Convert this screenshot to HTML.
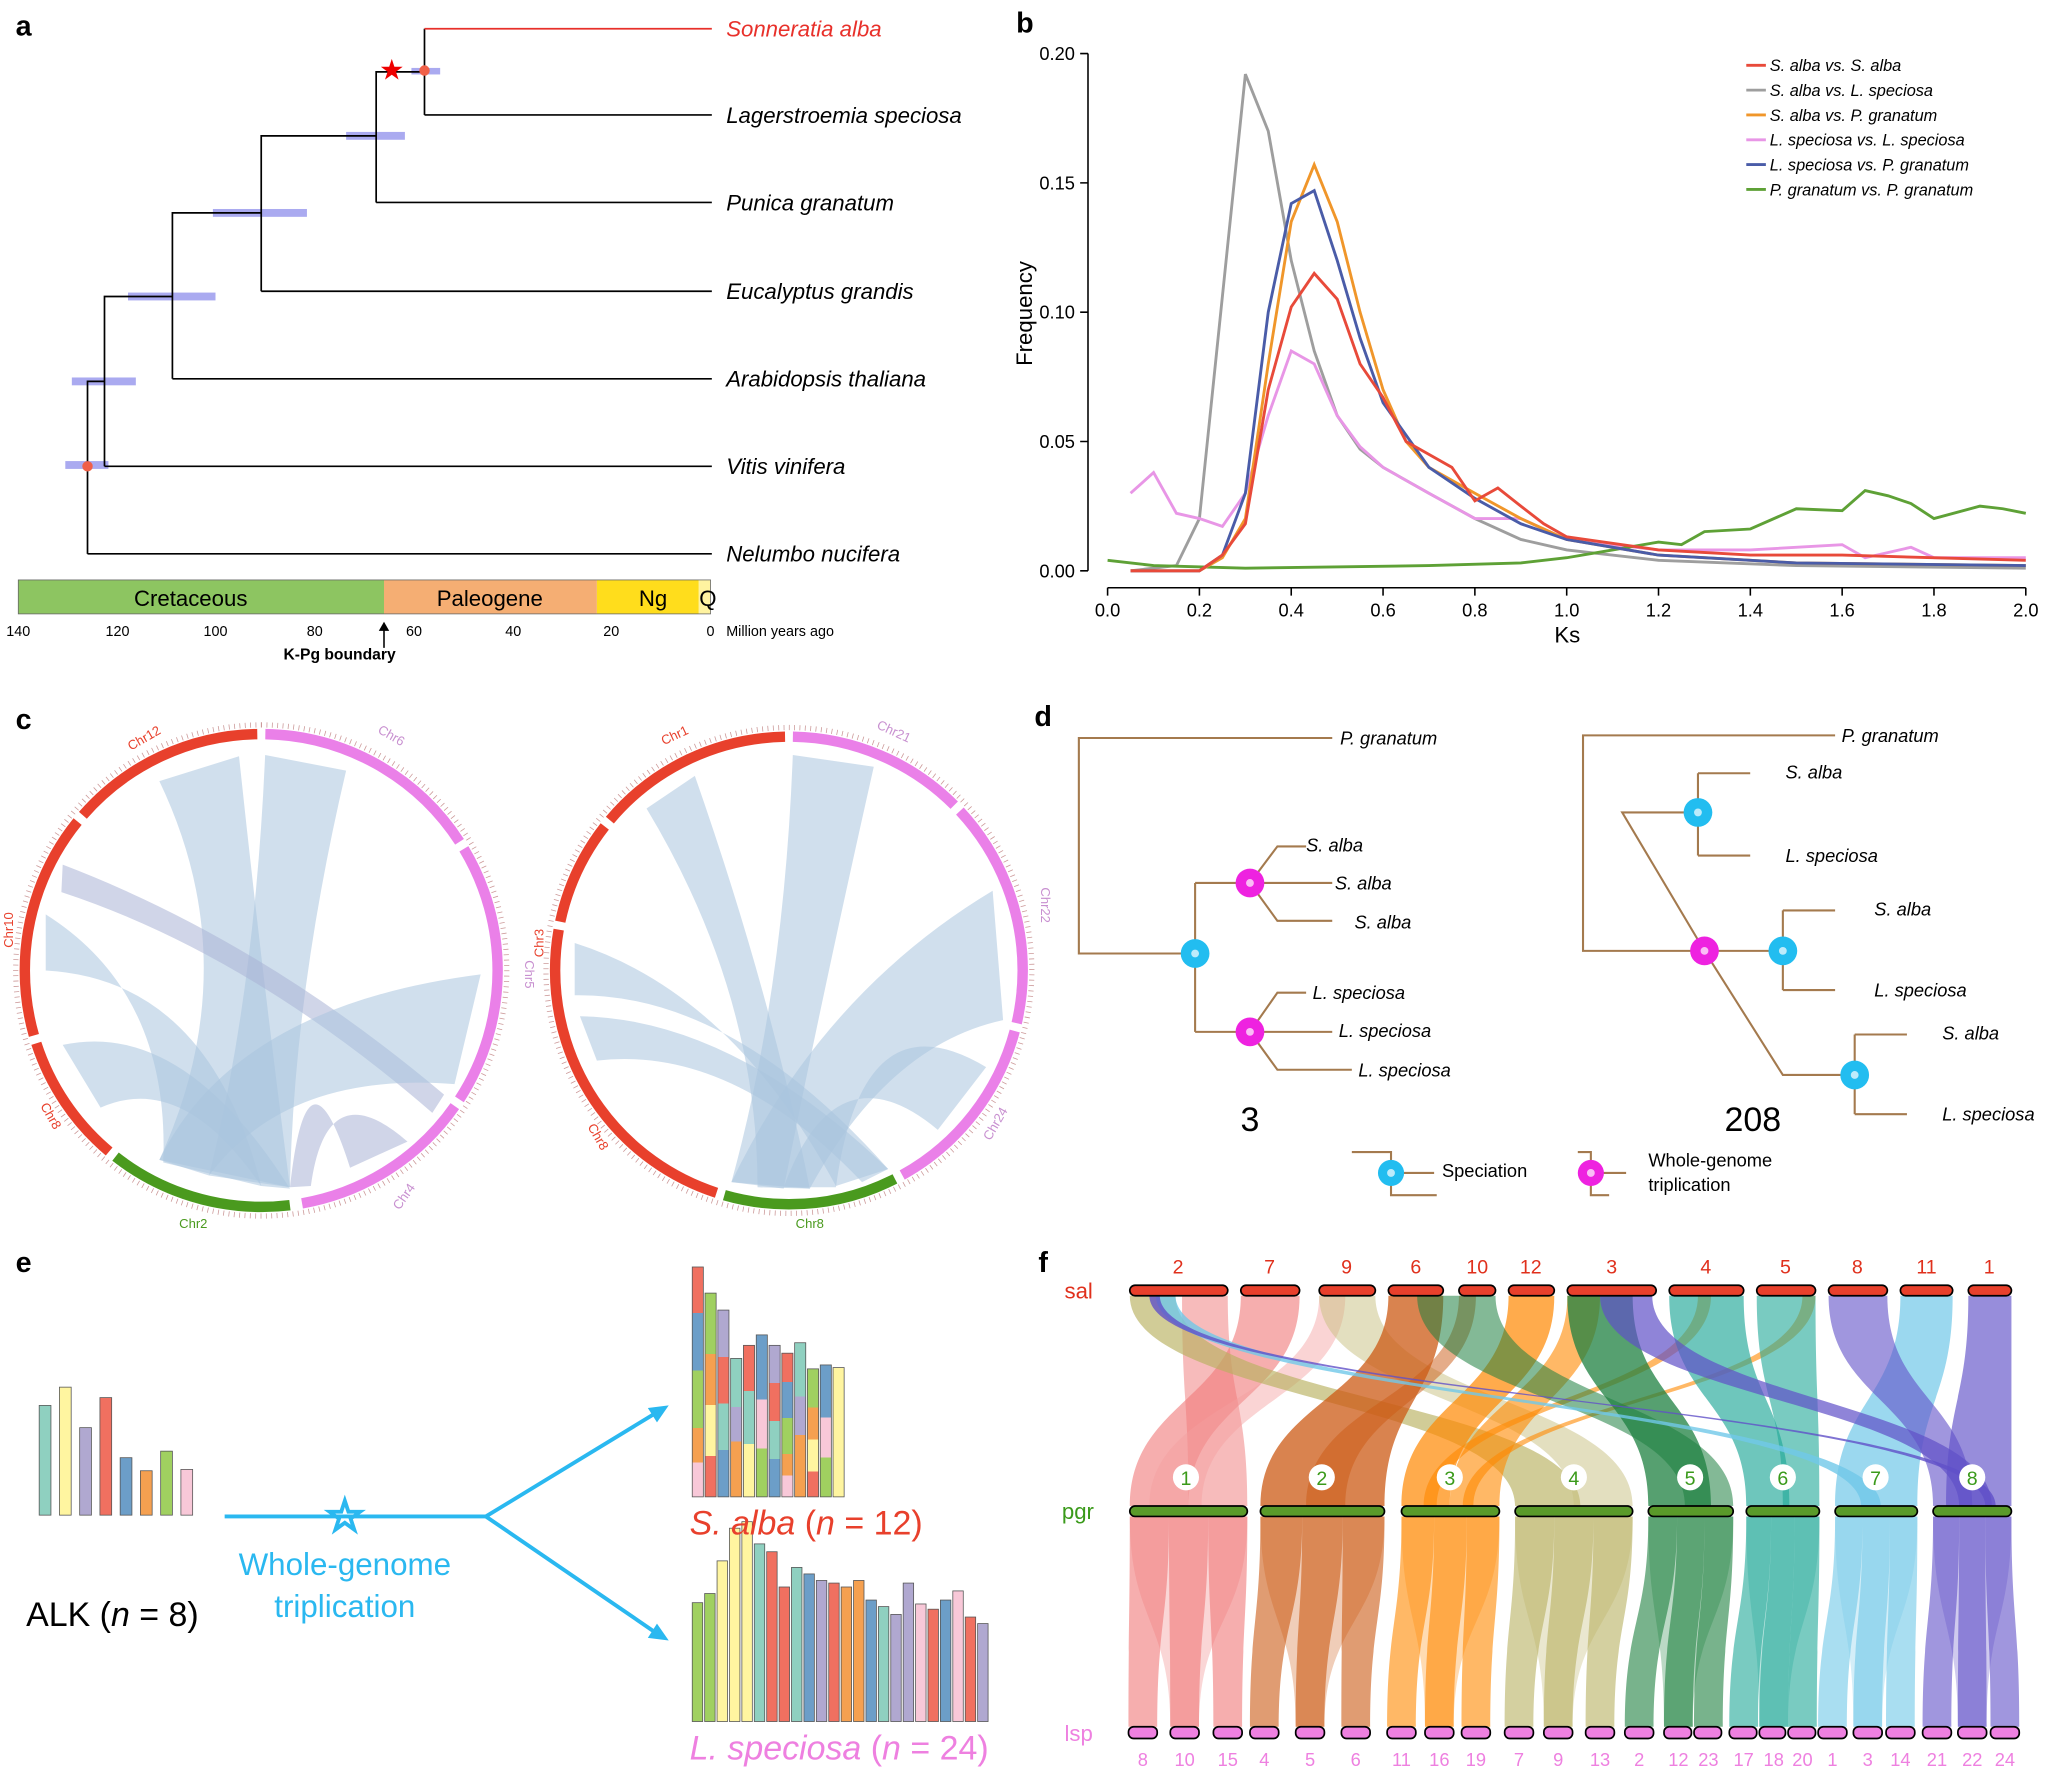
<!DOCTYPE html>
<html><head><meta charset="utf-8"><style>
html,body{margin:0;padding:0;background:#fff}
svg{display:block}
text{font-family:"Liberation Sans",sans-serif}
</style></head><body>
<svg xmlns="http://www.w3.org/2000/svg" width="2048" height="1779" viewBox="0 0 1568 1362" preserveAspectRatio="none">
<defs>
<linearGradient id="g0" x1="0" y1="0" x2="0" y2="1"><stop offset="0" stop-color="#f07060"/><stop offset=".2" stop-color="#f07060"/><stop offset=".2" stop-color="#6c9ec8"/><stop offset=".45" stop-color="#6c9ec8"/><stop offset=".45" stop-color="#a0d060"/><stop offset=".7" stop-color="#a0d060"/><stop offset=".7" stop-color="#f5a050"/><stop offset=".85" stop-color="#f5a050"/><stop offset=".85" stop-color="#f8c8d8"/><stop offset="1" stop-color="#f8c8d8"/></linearGradient>
<linearGradient id="g1" x1="0" y1="0" x2="0" y2="1"><stop offset="0" stop-color="#b0a8d0"/><stop offset=".25" stop-color="#b0a8d0"/><stop offset=".25" stop-color="#f07060"/><stop offset=".5" stop-color="#f07060"/><stop offset=".5" stop-color="#8fd0c0"/><stop offset=".75" stop-color="#8fd0c0"/><stop offset=".75" stop-color="#6c9ec8"/><stop offset="1" stop-color="#6c9ec8"/></linearGradient>
<linearGradient id="g2" x1="0" y1="0" x2="0" y2="1"><stop offset="0" stop-color="#a0d060"/><stop offset=".3" stop-color="#a0d060"/><stop offset=".3" stop-color="#f5a050"/><stop offset=".55" stop-color="#f5a050"/><stop offset=".55" stop-color="#fff5a0"/><stop offset=".8" stop-color="#fff5a0"/><stop offset=".8" stop-color="#f07060"/><stop offset="1" stop-color="#f07060"/></linearGradient>
<linearGradient id="g3" x1="0" y1="0" x2="0" y2="1"><stop offset="0" stop-color="#8fd0c0"/><stop offset=".35" stop-color="#8fd0c0"/><stop offset=".35" stop-color="#b0a8d0"/><stop offset=".6" stop-color="#b0a8d0"/><stop offset=".6" stop-color="#f5a050"/><stop offset="1" stop-color="#f5a050"/></linearGradient>
<linearGradient id="g4" x1="0" y1="0" x2="0" y2="1"><stop offset="0" stop-color="#f07060"/><stop offset=".3" stop-color="#f07060"/><stop offset=".3" stop-color="#8fd0c0"/><stop offset=".65" stop-color="#8fd0c0"/><stop offset=".65" stop-color="#fff5a0"/><stop offset="1" stop-color="#fff5a0"/></linearGradient>
<linearGradient id="g5" x1="0" y1="0" x2="0" y2="1"><stop offset="0" stop-color="#6c9ec8"/><stop offset=".4" stop-color="#6c9ec8"/><stop offset=".4" stop-color="#f8c8d8"/><stop offset=".7" stop-color="#f8c8d8"/><stop offset=".7" stop-color="#a0d060"/><stop offset="1" stop-color="#a0d060"/></linearGradient>
</defs>
<rect width="1568" height="1362" fill="#fff"/>
<g font-weight="bold" font-size="22">
<text x="12" y="27">a</text><text x="778" y="25">b</text><text x="12" y="558">c</text><text x="792" y="556">d</text><text x="12" y="974">e</text><text x="795" y="974">f</text>
</g>
<!-- Panel a -->
<g fill="#aaaaf0">
<rect x="315" y="52" width="22" height="5"/><rect x="265" y="101" width="45" height="6"/><rect x="163" y="160" width="72" height="6"/>
<rect x="98" y="224" width="67" height="6"/><rect x="55" y="289" width="49" height="6"/><rect x="50" y="353" width="33" height="6"/>
</g>
<g stroke="#000" stroke-width="1.3" fill="none">
<path d="M325 88V22"/><path d="M325 88H545"/><path d="M288 155V55H325"/><path d="M288 155H545"/>
<path d="M200 223V104H288"/><path d="M200 223H545"/><path d="M132 290V163H200"/><path d="M132 290H545"/>
<path d="M80 357V227H132"/><path d="M80 357H545"/><path d="M67 424V292H80"/><path d="M67 424H545"/>
</g>
<path d="M325 22H545" stroke="#e8302a" stroke-width="1.3"/>
<circle cx="325" cy="54" r="4" fill="#f06048"/><circle cx="67" cy="357" r="4" fill="#f06048"/>
<text x="300" y="61" font-size="22" fill="#e00" text-anchor="middle">★</text>
<g font-size="17" font-style="italic">
<text x="556" y="28" fill="#e8302a">Sonneratia alba</text><text x="556" y="94">Lagerstroemia speciosa</text><text x="556" y="161">Punica granatum</text>
<text x="556" y="229">Eucalyptus grandis</text><text x="556" y="296">Arabidopsis thaliana</text><text x="556" y="363">Vitis vinifera</text><text x="556" y="430">Nelumbo nucifera</text>
</g>
<rect x="14" y="444" width="280" height="26" fill="#8dc561"/><rect x="294" y="444" width="163" height="26" fill="#f5ae73"/>
<rect x="457" y="444" width="78" height="26" fill="#ffdd1c"/><rect x="535" y="444" width="9" height="26" fill="#fff3a0"/>
<rect x="14" y="444" width="530" height="26" fill="none" stroke="#666" stroke-width="0.6"/>
<g font-size="17" text-anchor="middle"><text x="146" y="464">Cretaceous</text><text x="375" y="464">Paleogene</text><text x="500" y="464">Ng</text><text x="542" y="464">Q</text></g>
<g font-size="11" text-anchor="middle"><text x="14" y="487">140</text><text x="90" y="487">120</text><text x="165" y="487">100</text><text x="241" y="487">80</text><text x="317" y="487">60</text><text x="393" y="487">40</text><text x="468" y="487">20</text><text x="544" y="487">0</text></g>
<text x="556" y="487" font-size="11">Million years ago</text>
<path d="M294 496V480" stroke="#000" stroke-width="1.2"/><path d="M290 483L294 476L298 483Z"/>
<text x="260" y="505" font-size="12" font-weight="bold" text-anchor="middle">K-Pg boundary</text>
<!-- Panel b -->
<g stroke="#000" stroke-width="1.2"><path d="M833 41V437"/><path d="M848 450H1551"/>
<path d="M827 437H833M827 338H833M827 239H833M827 140H833M827 41H833"/>
<path d="M848 450v6M918.3 450v6M988.6 450v6M1058.9 450v6M1129.2 450v6M1199.5 450v6M1269.8 450v6M1340.1 450v6M1410.4 450v6M1480.7 450v6M1551 450v6"/></g>
<g font-size="14" text-anchor="end"><text x="823" y="442">0.00</text><text x="823" y="343">0.05</text><text x="823" y="244">0.10</text><text x="823" y="145">0.15</text><text x="823" y="46">0.20</text></g>
<g font-size="14" text-anchor="middle"><text x="848" y="472">0.0</text><text x="918.3" y="472">0.2</text><text x="988.6" y="472">0.4</text><text x="1058.9" y="472">0.6</text><text x="1129.2" y="472">0.8</text><text x="1199.5" y="472">1.0</text><text x="1269.8" y="472">1.2</text><text x="1340.1" y="472">1.4</text><text x="1410.4" y="472">1.6</text><text x="1480.7" y="472">1.8</text><text x="1551" y="472">2.0</text></g>
<text x="1200" y="492" font-size="17" text-anchor="middle">Ks</text>
<text transform="translate(790,240) rotate(-90)" font-size="17" text-anchor="middle">Frequency</text>
<g fill="none" stroke-width="2.2">
<polyline stroke="#9e9e9e" points="865.6,437 900.7,433 918.3,397 953.5,56.8 971,100.4 988.6,199.4 1006.2,268.7 1023.8,318.2 1041.3,343.9 1058.9,357.8 1094,377.6 1129.2,397 1164.4,413 1199.5,421 1269.8,429 1375.3,433 1551,435"/>
<polyline stroke="#e896e6" points="865.6,377.6 883.2,361.8 900.7,393 918.3,397 935.9,403 953.5,377.6 971,318.2 988.6,268.7 1006.2,278.6 1023.8,318.2 1041.3,342 1058.9,357.8 1094,377.6 1129.2,397 1164.4,397 1199.5,413 1269.8,421 1340.1,421 1410.4,417 1428,427 1463.1,419 1480.7,427 1551,427"/>
<polyline stroke="#5ea136" points="848,429 883.2,433 953.5,435 1094,433 1164.4,431 1199.5,427 1234.7,421 1269.8,415 1287.4,417 1305,407 1340.1,405 1375.3,389.5 1410.4,391 1428,375.6 1445.6,379.6 1463.1,385.5 1480.7,397 1515.9,387.5 1533.4,389.5 1551,393"/>
<polyline stroke="#f0962a" points="865.6,437 918.3,437 935.9,427 953.5,397 971,278.6 988.6,169.7 1006.2,126.1 1023.8,169.7 1041.3,239 1058.9,298.4 1076.5,338 1094,357.8 1129.2,377.6 1164.4,397 1199.5,413 1269.8,425 1375.3,431 1551,433"/>
<polyline stroke="#4a5ca8" points="865.6,437 918.3,437 935.9,425 953.5,377.6 971,239 988.6,155.8 1006.2,145.9 1023.8,199.4 1041.3,258.8 1058.9,308.3 1094,357.8 1129.2,381.6 1164.4,401 1199.5,413 1269.8,425 1375.3,431 1551,433"/>
<polyline stroke="#e84a3a" points="865.6,437 918.3,437 935.9,425 953.5,401 971,298.4 988.6,235 1006.2,209.3 1023.8,229 1041.3,278.6 1058.9,304.3 1076.5,338 1094,347.9 1111.6,357.8 1129.2,383.5 1146.8,373.6 1164.4,387.5 1181.9,401 1199.5,411 1269.8,421 1340.1,425 1410.4,425 1551,429"/>
</g>
<g stroke-width="2.2">
<path d="M1337 50H1352" stroke="#e84a3a"/><path d="M1337 69H1352" stroke="#9e9e9e"/><path d="M1337 88H1352" stroke="#f0962a"/><path d="M1337 107H1352" stroke="#e896e6"/><path d="M1337 126H1352" stroke="#4a5ca8"/><path d="M1337 145H1352" stroke="#5ea136"/>
</g>
<g font-size="12.5" font-style="italic">
<text x="1355" y="54.5">S. alba vs. S. alba</text><text x="1355" y="73.5">S. alba vs. L. speciosa</text><text x="1355" y="92.5">S. alba vs. P. granatum</text><text x="1355" y="111.5">L. speciosa vs. L. speciosa</text><text x="1355" y="130.5">L. speciosa vs. P. granatum</text><text x="1355" y="149.5">P. granatum vs. P. granatum</text>
</g>
<!-- Panel c ribbons -->
<g fill="#aac4de" fill-opacity="0.55">
<path d="M122 598Q190 740 122 888L222 909Q200 740 183 579Z"/>
<path d="M203 578Q195 760 160 900L222 909Q225 760 265 590Z"/>
<path d="M48 662Q200 720 340 838L331 852Q190 730 47 683Z" fill="#a9b3d6"/>
<path d="M35 700Q130 760 125 890L200 908Q160 750 35 743Z"/>
<path d="M48 800Q140 780 222 910L200 908Q140 820 77 848Z"/>
<path d="M368 746Q180 770 122 888L160 900Q220 820 348 830Z"/>
<path d="M268 894Q235 790 222 909L238 908Q250 820 312 874Z" fill="#a9b3d6"/>
<path d="M495 619Q580 760 580 909L620 910Q590 760 532 594Z"/>
<path d="M607 578Q600 760 560 905L600 910Q630 760 669 587Z"/>
<path d="M440 722Q560 760 640 908L680 895Q560 760 440 762Z"/>
<path d="M444 778Q560 780 680 895L660 905Q560 800 457 812Z"/>
<path d="M760 682Q630 760 560 905L620 910Q680 800 768 781Z"/>
<path d="M755 817Q660 760 640 909L600 909Q640 800 718 865Z"/>
</g>
<!-- Panel c rings -->
<g fill="none" stroke-width="8">
<g transform="rotate(-90 200 743)">
<circle cx="200" cy="743" r="181" stroke="#ea80e8" stroke-dasharray="0 3.2 176.9 2000"/>
<circle cx="200" cy="743" r="181" stroke="#ea80e8" stroke-dasharray="0 186.4 202.2 2000"/>
<circle cx="200" cy="743" r="181" stroke="#ea80e8" stroke-dasharray="0 394.9 142.2 2000"/>
<circle cx="200" cy="743" r="181" stroke="#4a9a1e" stroke-dasharray="0 546.5 142.2 2000"/>
<circle cx="200" cy="743" r="181" stroke="#e8402c" stroke-dasharray="0 695 101.1 2000"/>
<circle cx="200" cy="743" r="181" stroke="#e8402c" stroke-dasharray="0 802.4 173.7 2000"/>
<circle cx="200" cy="743" r="181" stroke="#e8402c" stroke-dasharray="0 982.4 151.6 2000"/>
<circle cx="200" cy="743" r="188" stroke="#c99" stroke-width="4" stroke-dasharray="0.6 3.5"/>
</g>
<g transform="rotate(-90 604 743)">
<circle cx="604" cy="743" r="179" stroke="#ea80e8" stroke-dasharray="0 3.1 137.5 2000"/>
<circle cx="604" cy="743" r="179" stroke="#ea80e8" stroke-dasharray="0 146.8 175 2000"/>
<circle cx="604" cy="743" r="179" stroke="#ea80e8" stroke-dasharray="0 328 143.7 2000"/>
<circle cx="604" cy="743" r="179" stroke="#4a9a1e" stroke-dasharray="0 478 134.3 2000"/>
<circle cx="604" cy="743" r="179" stroke="#e8402c" stroke-dasharray="0 618.6 256.2 2000"/>
<circle cx="604" cy="743" r="179" stroke="#e8402c" stroke-dasharray="0 881 81.2 2000"/>
<circle cx="604" cy="743" r="179" stroke="#e8402c" stroke-dasharray="0 968.4 153.1 2000"/>
<circle cx="604" cy="743" r="186" stroke="#c99" stroke-width="4" stroke-dasharray="0.6 3.5"/>
</g>
</g>
<g font-size="10" text-anchor="middle">
<text x="112" y="568" fill="#e8402c" transform="rotate(-30 112 568)">Chr12</text>
<text x="298" y="566" fill="#c890d0" transform="rotate(30 298 566)">Chr6</text>
<text x="402" y="746" fill="#c890d0" transform="rotate(90 402 746)">Chr5</text>
<text x="312" y="918" fill="#c890d0" transform="rotate(-55 312 918)">Chr4</text>
<text x="148" y="940" fill="#4a9a1e">Chr2</text>
<text x="36" y="856" fill="#e8402c" transform="rotate(60 36 856)">Chr8</text>
<text x="10" y="712" fill="#e8402c" transform="rotate(-90 10 712)">Chr10</text>
<text x="518" y="566" fill="#e8402c" transform="rotate(-25 518 566)">Chr1</text>
<text x="683" y="563" fill="#c890d0" transform="rotate(25 683 563)">Chr21</text>
<text x="797" y="693" fill="#c890d0" transform="rotate(90 797 693)">Chr22</text>
<text x="765" y="862" fill="#c890d0" transform="rotate(-60 765 862)">Chr24</text>
<text x="620" y="940" fill="#4a9a1e">Chr8</text>
<text x="455" y="872" fill="#e8402c" transform="rotate(60 455 872)">Chr8</text>
<text x="416" y="722" fill="#e8402c" transform="rotate(-90 416 722)">Chr3</text>
</g>
<!-- Panel d -->
<g stroke="#a47a4e" stroke-width="1.6" fill="none">
<path d="M1020 565H826V730H915"/><path d="M915 676V790"/><path d="M915 676H957"/><path d="M915 790H957"/>
<path d="M957 676L978 648H1000M957 676H1020M957 676L978 705H1020"/>
<path d="M957 790L978 760H1000M957 790H1020M957 790L978 819H1035"/>
<path d="M1405 563H1212V728H1305"/><path d="M1305 728L1242 622H1300"/><path d="M1300 592V655M1300 592H1340M1300 655H1340"/>
<path d="M1305 728H1365"/><path d="M1365 697V758M1365 697H1405M1365 758H1405"/>
<path d="M1305 728L1365 823H1420"/><path d="M1420 792V853M1420 792H1460M1420 853H1460"/>
<path d="M1035 882H1065V915H1100M1065 898H1098"/><path d="M1208 882H1218V915H1232M1218 898H1245"/>
</g>
<g>
<circle cx="915" cy="730" r="11" fill="#22bdf0"/><circle cx="957" cy="676" r="11" fill="#ee22e0"/><circle cx="957" cy="790" r="11" fill="#ee22e0"/>
<circle cx="1300" cy="622" r="11" fill="#22bdf0"/><circle cx="1305" cy="728" r="11" fill="#ee22e0"/><circle cx="1365" cy="728" r="11" fill="#22bdf0"/><circle cx="1420" cy="823" r="11" fill="#22bdf0"/>
<circle cx="1065" cy="898" r="10" fill="#22bdf0"/><circle cx="1218" cy="898" r="10" fill="#ee22e0"/>
</g>
<g fill="#fff" fill-opacity="0.7">
<circle cx="915" cy="730" r="3"/><circle cx="957" cy="676" r="3"/><circle cx="957" cy="790" r="3"/><circle cx="1300" cy="622" r="3"/><circle cx="1305" cy="728" r="3"/><circle cx="1365" cy="728" r="3"/><circle cx="1420" cy="823" r="3"/><circle cx="1065" cy="898" r="3"/><circle cx="1218" cy="898" r="3"/>
</g>
<g font-size="14" font-style="italic">
<text x="1026" y="570">P. granatum</text><text x="1000" y="652">S. alba</text><text x="1022" y="681">S. alba</text><text x="1037" y="711">S. alba</text>
<text x="1005" y="765">L. speciosa</text><text x="1025" y="794">L. speciosa</text><text x="1040" y="824">L. speciosa</text>
<text x="1410" y="568">P. granatum</text><text x="1367" y="596">S. alba</text><text x="1367" y="660">L. speciosa</text>
<text x="1435" y="701">S. alba</text><text x="1435" y="763">L. speciosa</text><text x="1487" y="796">S. alba</text><text x="1487" y="858">L. speciosa</text>
</g>
<text x="957" y="866" font-size="26" text-anchor="middle">3</text><text x="1342" y="866" font-size="26" text-anchor="middle">208</text>
<g font-size="14"><text x="1104" y="901">Speciation</text><text x="1262" y="893">Whole-genome</text><text x="1262" y="912">triplication</text></g>
<!-- Panel e -->
<g stroke="#555" stroke-width="0.6">
<rect x="30" y="1076" width="9" height="84" fill="#8fd0c0"/><rect x="45.5" y="1062" width="9" height="98" fill="#fff5a0"/><rect x="61" y="1093" width="9" height="67" fill="#b0a8d0"/><rect x="76.5" y="1070" width="9" height="90" fill="#f07060"/>
<rect x="92" y="1116" width="9" height="44" fill="#6c9ec8"/><rect x="107.5" y="1126" width="9" height="34" fill="#f5a050"/><rect x="123" y="1111" width="9" height="49" fill="#a0d060"/><rect x="138.5" y="1125" width="9" height="35" fill="#f8c8d8"/>
<rect x="530" y="970" width="8.5" height="176" fill="url(#g0)"/><rect x="539.8" y="990" width="8.5" height="156" fill="url(#g2)"/><rect x="549.6" y="1003" width="8.5" height="143" fill="url(#g1)"/><rect x="559.4" y="1040" width="8.5" height="106" fill="url(#g3)"/>
<rect x="569.2" y="1030" width="8.5" height="116" fill="url(#g4)"/><rect x="579" y="1022" width="8.5" height="124" fill="url(#g5)"/><rect x="588.8" y="1030" width="8.5" height="116" fill="url(#g1)"/><rect x="598.6" y="1036" width="8.5" height="110" fill="url(#g0)"/>
<rect x="608.4" y="1028" width="8.5" height="118" fill="url(#g3)"/><rect x="618.2" y="1048" width="8.5" height="98" fill="url(#g2)"/><rect x="628" y="1045" width="8.5" height="101" fill="url(#g5)"/><rect x="637.8" y="1047" width="8.5" height="99" fill="#fff5a0"/>
<rect x="530" y="1227" width="8" height="91" fill="#a0d060"/><rect x="539.5" y="1220" width="8" height="98" fill="#a0d060"/><rect x="549" y="1195" width="8" height="123" fill="#fff5a0"/><rect x="558.5" y="1170" width="8" height="148" fill="#fff5a0"/>
<rect x="568" y="1165" width="8" height="153" fill="#fff5a0"/><rect x="577.5" y="1182" width="8" height="136" fill="#8fd0c0"/><rect x="587" y="1188" width="8" height="130" fill="#f07060"/><rect x="596.5" y="1215" width="8" height="103" fill="#f07060"/>
<rect x="606" y="1200" width="8" height="118" fill="#8fd0c0"/><rect x="615.5" y="1205" width="8" height="113" fill="#6c9ec8"/><rect x="625" y="1210" width="8" height="108" fill="#b0a8d0"/><rect x="634.5" y="1212" width="8" height="106" fill="#f07060"/>
<rect x="644" y="1215" width="8" height="103" fill="#f5a050"/><rect x="653.5" y="1210" width="8" height="108" fill="#f5a050"/><rect x="663" y="1225" width="8" height="93" fill="#6c9ec8"/><rect x="672.5" y="1230" width="8" height="88" fill="#8fd0c0"/>
<rect x="682" y="1236" width="8" height="82" fill="#b0a8d0"/><rect x="691.5" y="1212" width="8" height="106" fill="#b0a8d0"/><rect x="701" y="1228" width="8" height="90" fill="#f8c8d8"/><rect x="710.5" y="1232" width="8" height="86" fill="#f07060"/>
<rect x="720" y="1225" width="8" height="93" fill="#6c9ec8"/><rect x="729.5" y="1218" width="8" height="100" fill="#f8c8d8"/><rect x="739" y="1238" width="8" height="80" fill="#f07060"/><rect x="748.5" y="1243" width="8" height="75" fill="#b0a8d0"/>
</g>
<path d="M172 1161H372M372 1161L505 1080M372 1161L505 1252" stroke="#2ab8f0" stroke-width="3" fill="none"/>
<path d="M512 1076L496 1078L503 1089Z M512 1256L496 1254L503 1243Z" fill="#2ab8f0"/>
<text x="264" y="1172" font-size="34" fill="#fff" stroke="#2ab8f0" stroke-width="2" text-anchor="middle">☆</text>
<g font-size="24" fill="#2ab8f0" text-anchor="middle"><text x="264" y="1206">Whole-genome</text><text x="264" y="1238">triplication</text></g>
<text x="20" y="1245" font-size="26">ALK (<tspan font-style="italic">n</tspan> = 8)</text>
<text x="528" y="1175" font-size="26" fill="#e8402c"><tspan font-style="italic">S. alba</tspan> (<tspan font-style="italic">n</tspan> = 12)</text>
<text x="528" y="1347" font-size="26" fill="#ee80e0"><tspan font-style="italic">L. speciosa</tspan> (<tspan font-style="italic">n</tspan> = 24)</text>
<!-- Panel f lower ribbons -->
<g fill-opacity="0.6">
<g fill="#f07878">
<path d="M865 1161C865 1241 864 1241 864 1322L886 1322C886 1241 895 1241 895 1161Z"/>
<path d="M895 1161C895 1241 896 1241 896 1322L918 1322C918 1241 925 1241 925 1161Z"/>
<path d="M925 1161C925 1241 929 1241 929 1322L951 1322C951 1241 955 1241 955 1161Z"/>
<path d="M865 1161C865 1241 896 1241 896 1322L918 1322C918 1241 955 1241 955 1161Z" fill-opacity="0.3"/>
</g>
<g fill="#cc5a14">
<path d="M965 1161C965 1241 957 1241 957 1322L979 1322C979 1241 997 1241 997 1161Z"/>
<path d="M997 1161C997 1241 992 1241 992 1322L1014 1322C1014 1241 1028 1241 1028 1161Z"/>
<path d="M1028 1161C1028 1241 1027 1241 1027 1322L1049 1322C1049 1241 1060 1241 1060 1161Z"/>
<path d="M965 1161C965 1241 992 1241 992 1322L1014 1322C1014 1241 1060 1241 1060 1161Z" fill-opacity="0.3"/>
</g>
<g fill="#ff8800">
<path d="M1073 1161C1073 1241 1062 1241 1062 1322L1084 1322C1084 1241 1098 1241 1098 1161Z"/>
<path d="M1098 1161C1098 1241 1091 1241 1091 1322L1113 1322C1113 1241 1123 1241 1123 1161Z"/>
<path d="M1123 1161C1123 1241 1119 1241 1119 1322L1141 1322C1141 1241 1148 1241 1148 1161Z"/>
<path d="M1073 1161C1073 1241 1091 1241 1091 1322L1113 1322C1113 1241 1148 1241 1148 1161Z" fill-opacity="0.3"/>
</g>
<g fill="#b8b060">
<path d="M1160 1161C1160 1241 1152 1241 1152 1322L1174 1322C1174 1241 1190 1241 1190 1161Z"/>
<path d="M1190 1161C1190 1241 1182 1241 1182 1322L1204 1322C1204 1241 1220 1241 1220 1161Z"/>
<path d="M1220 1161C1220 1241 1214 1241 1214 1322L1236 1322C1236 1241 1250 1241 1250 1161Z"/>
<path d="M1160 1161C1160 1241 1182 1241 1182 1322L1204 1322C1204 1241 1250 1241 1250 1161Z" fill-opacity="0.3"/>
</g>
<g fill="#1e8040">
<path d="M1262 1161C1262 1241 1244 1241 1244 1322L1266 1322C1266 1241 1284 1241 1284 1161Z"/>
<path d="M1284 1161C1284 1241 1274 1241 1274 1322L1296 1322C1296 1241 1305 1241 1305 1161Z"/>
<path d="M1305 1161C1305 1241 1297 1241 1297 1322L1319 1322C1319 1241 1327 1241 1327 1161Z"/>
<path d="M1262 1161C1262 1241 1274 1241 1274 1322L1296 1322C1296 1241 1327 1241 1327 1161Z" fill-opacity="0.3"/>
</g>
<g fill="#20a898">
<path d="M1337 1161C1337 1241 1324 1241 1324 1322L1346 1322C1346 1241 1356 1241 1356 1161Z"/>
<path d="M1356 1161C1356 1241 1347 1241 1347 1322L1369 1322C1369 1241 1374 1241 1374 1161Z"/>
<path d="M1374 1161C1374 1241 1369 1241 1369 1322L1391 1322C1391 1241 1393 1241 1393 1161Z"/>
<path d="M1337 1161C1337 1241 1347 1241 1347 1322L1369 1322C1369 1241 1393 1241 1393 1161Z" fill-opacity="0.3"/>
</g>
<g fill="#70c8e8">
<path d="M1405 1161C1405 1241 1392 1241 1392 1322L1414 1322C1414 1241 1426 1241 1426 1161Z"/>
<path d="M1426 1161C1426 1241 1419 1241 1419 1322L1441 1322C1441 1241 1447 1241 1447 1161Z"/>
<path d="M1447 1161C1447 1241 1444 1241 1444 1322L1466 1322C1466 1241 1468 1241 1468 1161Z"/>
<path d="M1405 1161C1405 1241 1419 1241 1419 1322L1441 1322C1441 1241 1468 1241 1468 1161Z" fill-opacity="0.3"/>
</g>
<g fill="#6050c8">
<path d="M1480 1161C1480 1241 1472 1241 1472 1322L1494 1322C1494 1241 1500 1241 1500 1161Z"/>
<path d="M1500 1161C1500 1241 1499 1241 1499 1322L1521 1322C1521 1241 1520 1241 1520 1161Z"/>
<path d="M1520 1161C1520 1241 1524 1241 1524 1322L1546 1322C1546 1241 1540 1241 1540 1161Z"/>
<path d="M1480 1161C1480 1241 1499 1241 1499 1322L1521 1322C1521 1241 1540 1241 1540 1161Z" fill-opacity="0.3"/>
</g>
</g>
<!-- Panel f upper ribbons -->
<g>
<path d="M950 992C950 1072 865 1072 865 1153L910 1153C910 1072 995 1072 995 992Z" fill="#f07878" fill-opacity="0.6"/>
<path d="M905 992C905 1072 910 1072 910 1153L955 1153C955 1072 940 1072 940 992Z" fill="#f07878" fill-opacity="0.5"/>
<path d="M1010 992C1010 1072 880 1072 880 1153L920 1153C920 1072 1030 1072 1030 992Z" fill="#f4a0a0" fill-opacity="0.45"/>
<path d="M865 992C865 1072 1160 1072 1160 1153L1210 1153C1210 1072 900 1072 900 992Z" fill="#b8b060" fill-opacity="0.65"/>
<path d="M1010 992C1010 1072 1205 1072 1205 1153L1250 1153C1250 1072 1053 1072 1053 992Z" fill="#c8c080" fill-opacity="0.5"/>
<path d="M1063 992C1063 1072 965 1072 965 1153L1060 1153C1060 1072 1105 1072 1105 992Z" fill="#cc5a14" fill-opacity="0.75"/>
<path d="M1117 992C1117 1072 1000 1072 1000 1153L1030 1153C1030 1072 1130 1072 1130 992Z" fill="#cc5a14" fill-opacity="0.5"/>
<path d="M1155 992C1155 1072 1073 1072 1073 1153L1110 1153C1110 1072 1190 1072 1190 992Z" fill="#ff8800" fill-opacity="0.7"/>
<path d="M1200 992C1200 1072 1110 1072 1110 1153L1148 1153C1148 1072 1225 1072 1225 992Z" fill="#ff8800" fill-opacity="0.6"/>
<path d="M1300 992C1300 1072 1090 1072 1090 1153L1100 1153C1100 1072 1310 1072 1310 992Z" fill="#ff8800" fill-opacity="0.6"/>
<path d="M1380 992C1380 1072 1120 1072 1120 1153L1128 1153C1128 1072 1390 1072 1390 992Z" fill="#ff8800" fill-opacity="0.6"/>
<path d="M1200 992C1200 1072 1262 1072 1262 1153L1310 1153C1310 1072 1250 1072 1250 992Z" fill="#1e8040" fill-opacity="0.75"/>
<path d="M1085 992C1085 1072 1290 1072 1290 1153L1327 1153C1327 1072 1145 1072 1145 992Z" fill="#1e8040" fill-opacity="0.55"/>
<path d="M1278 992C1278 1072 1337 1072 1337 1153L1370 1153C1370 1072 1335 1072 1335 992Z" fill="#20a898" fill-opacity="0.65"/>
<path d="M1345 992C1345 1072 1365 1072 1365 1153L1393 1153C1393 1072 1390 1072 1390 992Z" fill="#20a898" fill-opacity="0.6"/>
<path d="M1455 992C1455 1072 1405 1072 1405 1153L1468 1153C1468 1072 1495 1072 1495 992Z" fill="#70c8e8" fill-opacity="0.7"/>
<path d="M885 992C885 1072 1425 1072 1425 1153L1440 1153C1440 1072 900 1072 900 992Z" fill="#70c8e8" fill-opacity="0.8"/>
<path d="M1507 992C1507 1072 1490 1072 1490 1153L1540 1153C1540 1072 1540 1072 1540 992Z" fill="#6050c8" fill-opacity="0.65"/>
<path d="M1400 992C1400 1072 1480 1072 1480 1153L1510 1153C1510 1072 1445 1072 1445 992Z" fill="#6050c8" fill-opacity="0.6"/>
<path d="M1225 992C1225 1072 1500 1072 1500 1153L1525 1153C1525 1072 1265 1072 1265 992Z" fill="#6050c8" fill-opacity="0.7"/>
<path d="M880 992C880 1072 1520 1072 1520 1153L1528 1153C1528 1072 888 1072 888 992Z" fill="#6050c8" fill-opacity="0.8"/>
</g>
<!-- Panel f chromosomes -->
<g stroke="#000" stroke-width="1.3">
<g fill="#5a9a2a">
<rect x="865" y="1153" width="90" height="8" rx="4"/><rect x="965" y="1153" width="95" height="8" rx="4"/><rect x="1073" y="1153" width="75" height="8" rx="4"/><rect x="1160" y="1153" width="90" height="8" rx="4"/>
<rect x="1262" y="1153" width="65" height="8" rx="4"/><rect x="1337" y="1153" width="56" height="8" rx="4"/><rect x="1405" y="1153" width="63" height="8" rx="4"/><rect x="1480" y="1153" width="60" height="8" rx="4"/>
</g>
<g fill="#e8402c">
<rect x="865" y="984" width="75" height="8" rx="4"/><rect x="950" y="984" width="45" height="8" rx="4"/><rect x="1010" y="984" width="43" height="8" rx="4"/><rect x="1063" y="984" width="42" height="8" rx="4"/>
<rect x="1117" y="984" width="28" height="8" rx="4"/><rect x="1155" y="984" width="35" height="8" rx="4"/><rect x="1200" y="984" width="68" height="8" rx="4"/><rect x="1278" y="984" width="57" height="8" rx="4"/>
<rect x="1345" y="984" width="45" height="8" rx="4"/><rect x="1400" y="984" width="45" height="8" rx="4"/><rect x="1455" y="984" width="40" height="8" rx="4"/><rect x="1507" y="984" width="33" height="8" rx="4"/>
</g>
<g fill="#ee80e0">
<rect x="864" y="1322" width="22" height="9" rx="4"/><rect x="896" y="1322" width="22" height="9" rx="4"/><rect x="929" y="1322" width="22" height="9" rx="4"/><rect x="957" y="1322" width="22" height="9" rx="4"/>
<rect x="992" y="1322" width="22" height="9" rx="4"/><rect x="1027" y="1322" width="22" height="9" rx="4"/><rect x="1062" y="1322" width="22" height="9" rx="4"/><rect x="1091" y="1322" width="22" height="9" rx="4"/>
<rect x="1119" y="1322" width="22" height="9" rx="4"/><rect x="1152" y="1322" width="22" height="9" rx="4"/><rect x="1182" y="1322" width="22" height="9" rx="4"/><rect x="1214" y="1322" width="22" height="9" rx="4"/>
<rect x="1244" y="1322" width="22" height="9" rx="4"/><rect x="1274" y="1322" width="21" height="9" rx="4"/><rect x="1297" y="1322" width="21" height="9" rx="4"/><rect x="1324" y="1322" width="21" height="9" rx="4"/>
<rect x="1347" y="1322" width="20" height="9" rx="4"/><rect x="1369" y="1322" width="21" height="9" rx="4"/><rect x="1392" y="1322" width="22" height="9" rx="4"/><rect x="1419" y="1322" width="22" height="9" rx="4"/>
<rect x="1444" y="1322" width="22" height="9" rx="4"/><rect x="1472" y="1322" width="22" height="9" rx="4"/><rect x="1499" y="1322" width="22" height="9" rx="4"/><rect x="1524" y="1322" width="22" height="9" rx="4"/>
</g>
</g>
<g fill="#fff"><circle cx="908" cy="1131" r="10"/><circle cx="1012" cy="1131" r="10"/><circle cx="1110" cy="1131" r="10"/><circle cx="1205" cy="1131" r="10"/><circle cx="1294" cy="1131" r="10"/><circle cx="1365" cy="1131" r="10"/><circle cx="1436" cy="1131" r="10"/><circle cx="1510" cy="1131" r="10"/></g>
<g font-size="15" fill="#3a9a1a" text-anchor="middle"><text x="908" y="1137">1</text><text x="1012" y="1137">2</text><text x="1110" y="1137">3</text><text x="1205" y="1137">4</text><text x="1294" y="1137">5</text><text x="1365" y="1137">6</text><text x="1436" y="1137">7</text><text x="1510" y="1137">8</text></g>
<g font-size="15" fill="#e0301c" text-anchor="middle"><text x="902" y="975">2</text><text x="972" y="975">7</text><text x="1031" y="975">9</text><text x="1084" y="975">6</text><text x="1131" y="975">10</text><text x="1172" y="975">12</text><text x="1234" y="975">3</text><text x="1306" y="975">4</text><text x="1367" y="975">5</text><text x="1422" y="975">8</text><text x="1475" y="975">11</text><text x="1523" y="975">1</text></g>
<g font-size="14" fill="#ee80e0" text-anchor="middle"><text x="875" y="1352">8</text><text x="907" y="1352">10</text><text x="940" y="1352">15</text><text x="968" y="1352">4</text><text x="1003" y="1352">5</text><text x="1038" y="1352">6</text><text x="1073" y="1352">11</text><text x="1102" y="1352">16</text><text x="1130" y="1352">19</text><text x="1163" y="1352">7</text><text x="1193" y="1352">9</text><text x="1225" y="1352">13</text><text x="1255" y="1352">2</text><text x="1285" y="1352">12</text><text x="1308" y="1352">23</text><text x="1335" y="1352">17</text><text x="1358" y="1352">18</text><text x="1380" y="1352">20</text><text x="1403" y="1352">1</text><text x="1430" y="1352">3</text><text x="1455" y="1352">14</text><text x="1483" y="1352">21</text><text x="1510" y="1352">22</text><text x="1535" y="1352">24</text></g>
<g font-size="17"><text x="815" y="994" fill="#e0301c">sal</text><text x="813" y="1163" fill="#3a9a1a">pgr</text><text x="815" y="1333" fill="#ee80e0">lsp</text></g>
</svg>
</body></html>
